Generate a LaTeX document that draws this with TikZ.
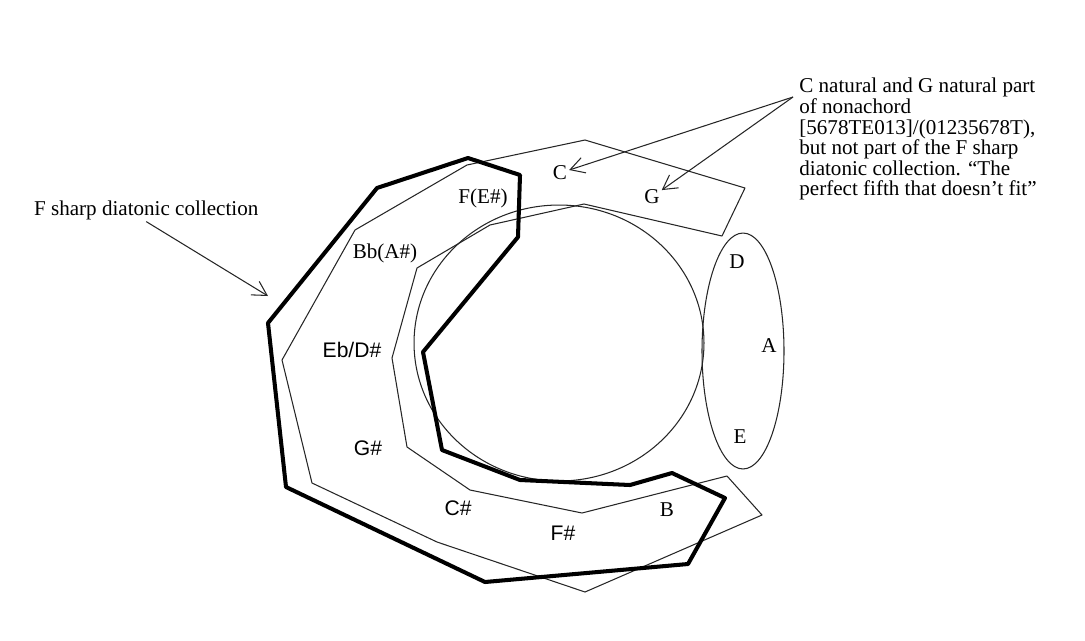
\documentclass[tikz,border=0pt]{standalone}
\usepackage{fontspec}
\setmainfont{Liberation Serif}
\setsansfont{Liberation Sans}
\usetikzlibrary{arrows.meta}

\tikzset{
  note/.style={font=\fontsize{12}{11.7}\selectfont, inner sep=1pt},
  sfnote/.style={note, font=\sffamily\fontsize{12}{11.7}\selectfont},
  thinline/.style={line width=0.6pt, black!85, line join=round},
  thickline/.style={line width=2.3pt, line join=round},
  pointer/.style={line width=0.6pt, black!85, -{Straight Barb[length=8pt,width=9pt]}}
}

\begin{document}
\begin{tikzpicture}[x=0.02cm, y=-0.02cm]
    \useasboundingbox (0,0) rectangle (1085,640);
    % nonachord region
    \draw[thinline] (585,140) -- (745,188) -- (722,236) -- (584,204) -- (490,225) -- (417,268)
        -- (392,358) -- (407,447) -- (470,490) -- (582,513) -- (727,476) -- (762,515)
        -- (585,592) -- (437,542) -- (312,483) -- (282,360) -- (355,230) -- (467,165) -- cycle;
    \draw[thinline] (559,343) ellipse [x radius=2.9cm, y radius=2.76cm];
    \draw[thinline] (743,351) ellipse [x radius=0.82cm, y radius=2.36cm];
    % F sharp diatonic collection
    \draw[thickline] (268,323) -- (377,188) -- (468,158) -- (520,175) -- (518,237) -- (423,352)
        -- (442,450) -- (520,480) -- (630,485) -- (672,473) -- (725,498) -- (688,564)
        -- (485,582) -- (286,487) -- cycle;
    % pitch names
    \node[note] (nC) at (560,173) {C};
    \node[note] (nG) at (652,197) {G};
    \node[note] (nF) at (483,198) {F(E\#)};
    \node[note] (nBb) at (385,253) {Bb(A\#)};
    \node[sfnote] (nEb) at (352,350) {Eb/D\#};
    \node[sfnote] (nGs) at (368,448) {G\#};
    \node[sfnote] (nCs) at (458,508) {C\#};
    \node[sfnote] (nFs) at (563,533) {F\#};
    \node[note] (nB) at (667,510) {B};
    \node[note] (nD) at (737,262) {D};
    \node[note] (nA) at (769,346) {A};
    \node[note] (nE) at (740,437) {E};
    % annotations
    \node[note, anchor=base west] (diaNote) at (32,215) {F sharp diatonic collection};
    \coordinate (diaTip) at (268,296);
    \draw[pointer] (diaNote.south) -- (diaTip);
    \node[note, inner sep=0pt, anchor=north west, align=left] (nonaNote) at (799,78)
        {C natural and G natural part\\ of nonachord\\ {[5678TE013]/(01235678T),}\\
         but not part of the F sharp\\ diatonic collection. ``The\\ perfect fifth that doesn't fit''};
    \coordinate (nonaTail) at (793,97);
    \draw[pointer] (nonaTail) -- (nC);
    \draw[pointer] (nonaTail) -- (nG);
\end{tikzpicture}
\end{document}
